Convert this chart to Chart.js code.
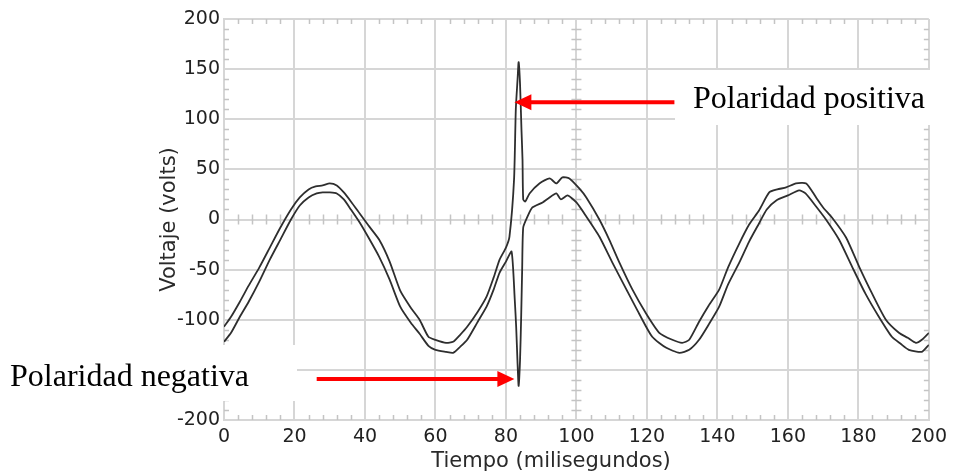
<!DOCTYPE html>
<html>
<head>
<meta charset="utf-8">
<script src="https://cdn.jsdelivr.net/npm/chart.js@4"></script>
<style>
  html, body { margin: 0; padding: 0; background: #fff; }
  canvas { display: block; }
</style>
</head>
<body>
<canvas id="voltChart" width="953" height="476"></canvas>
<script>
// traza superior (con el pico positivo)
const tiempoSup = [0, 2, 4.5, 7, 10, 13, 16, 19, 21.5, 24, 26, 28, 30, 32, 34, 36, 38.5, 41, 44, 47, 50, 53, 55.5, 58, 60, 63, 65, 67, 69, 72, 74.5, 76.5, 78.2, 80, 81, 82.3, 82.8, 83.3, 83.6, 84, 84.4, 84.7, 84.9, 85.5, 86.7, 89.5, 92.4, 94.3, 96, 98, 100.8, 102.8, 106.5, 109.3, 112.2, 115.9, 119.8, 123.5, 127.2, 130, 132, 134.8, 137.5, 140.5, 143, 146.2, 149, 151.8, 154.7, 157, 159.5, 162.3, 165.2, 168, 170, 172.5, 176.5, 180.2, 183.9, 187.8, 191.5, 194, 196.3, 198, 200];
const voltajeSup = [-107, -97, -82, -66, -48, -28, -8, 10, 22, 30, 33, 34, 36, 34, 27, 18, 6, -6, -20, -42, -71, -88, -100, -117, -120, -123, -122, -115, -107, -92, -77, -58, -40, -28, -17, 40, 110, 140, 157, 135, 90, 60, 20, 18, 26, 36, 41, 36, 42, 41, 31, 22, 0, -20, -43, -70, -94, -113, -120, -123, -120, -102, -86, -70, -48, -24, -5, 9, 27, 30, 32, 36, 36, 22, 12, 2, -18, -47, -74, -100, -113, -118, -123, -120, -113];

// traza inferior (con el pico negativo)
const tiempoInf = [0, 2, 4.5, 7, 10, 13, 16, 19, 21.5, 24, 26.3, 28, 30, 32, 34, 36, 38.5, 41, 44, 47, 50, 53, 55.5, 58, 60, 63, 65, 67, 69, 72, 74.5, 76.5, 78.2, 80, 81.6, 82.5, 82.9, 83.3, 83.6, 84, 84.3, 84.6, 84.9, 86, 87.5, 90.4, 92, 94.3, 95.6, 97.5, 100, 102.8, 106.5, 110.2, 114.2, 117.8, 121.5, 125.5, 129.2, 132, 134.8, 137.5, 140.5, 143, 146.2, 149, 151.8, 154, 156.7, 160, 163.2, 165, 168, 170.8, 174.5, 178.2, 182, 185.8, 189.5, 192, 194.3, 198, 200];
const voltajeInf = [-122, -113, -97, -82, -62, -40, -20, 0, 14, 22, 26, 27, 27, 26, 20, 10, -3, -18, -37, -60, -87, -103, -114, -126, -130, -132, -133, -127, -120, -102, -87, -70, -53, -42, -32, -80, -107, -144, -166, -140, -100, -50, -8, 2, 12, 17, 21, 26, 20, 24, 17, 3, -17, -43, -70, -94, -117, -128, -133, -130, -120, -105, -87, -65, -43, -22, -4, 10, 19, 24, 29, 26, 13, 0, -20, -47, -74, -97, -117, -124, -130, -132, -125];

// ejes
const ticksX = [0, 20, 40, 60, 80, 100, 120, 140, 160, 180, 200];
const ticksY = [-200, -150, -100, -50, 0, 50, 100, 150, 200];
const tituloX = 'Tiempo (milisegundos)';
const tituloY = 'Voltaje (volts)';

// anotaciones: punta de la flecha en coordenadas de datos
const notas = [
  { texto: 'Polaridad positiva', punta: [82.4, 117], cola: 127.8, caja: [675, 70, 278, 55], textoX: 693, textoY: 108 },
  { texto: 'Polaridad negativa', punta: [82.4, -159], cola: 26.3, caja: [0, 345, 297, 56], textoX: 10, textoY: 386 }
];

function puntos(xs, ys) {
  return xs.map((x, i) => ({ x: x, y: ys[i] }));
}

// marcas menores tipo osciloscopio
const marcasMenores = {
  id: 'marcasMenores',
  beforeDatasetsDraw(chart) {
    const { ctx, chartArea: a, scales: { x, y } } = chart;
    ctx.save();
    ctx.strokeStyle = '#c4c4c4';
    ctx.lineWidth = 1.5;
    ctx.beginPath();
    for (let t = 0; t <= 200; t += 4) {
      if (t % 20 === 0) continue;
      const px = Math.round(x.getPixelForValue(t)) + 0.5;
      ctx.moveTo(px, a.top); ctx.lineTo(px, a.top + 5);
      ctx.moveTo(px, a.bottom); ctx.lineTo(px, a.bottom - 5);
      const y0 = y.getPixelForValue(0);
      ctx.moveTo(px, y0 - 5); ctx.lineTo(px, y0 + 5);
    }
    for (let v = -200; v <= 200; v += 10) {
      if (v % 50 === 0) continue;
      const py = Math.round(y.getPixelForValue(v)) + 0.5;
      ctx.moveTo(a.left, py); ctx.lineTo(a.left + 5, py);
      ctx.moveTo(a.right, py); ctx.lineTo(a.right - 5, py);
      const x0 = x.getPixelForValue(100);
      ctx.moveTo(x0 - 5, py); ctx.lineTo(x0 + 5, py);
    }
    ctx.stroke();
    ctx.restore();
  }
};

// titulos de ejes, cajas blancas y flechas rojas
const anotaciones = {
  id: 'anotaciones',
  afterDraw(chart) {
    const { ctx, chartArea: a, scales: { x, y } } = chart;
    ctx.save();
    ctx.fillStyle = '#2a2a2a';
    ctx.font = '21px "DejaVu Sans"';
    ctx.textAlign = 'center';
    ctx.textBaseline = 'middle';
    ctx.fillText(tituloX, 551, 462);
    ctx.translate(170, (a.top + a.bottom) / 2);
    ctx.rotate(-Math.PI / 2);
    ctx.fillText(tituloY, 0, 0);
    ctx.restore();

    notas.forEach(n => {
      ctx.save();
      ctx.fillStyle = '#fff';
      ctx.fillRect(n.caja[0], n.caja[1], n.caja[2], n.caja[3]);
      ctx.fillStyle = '#000';
      ctx.font = '32px "Liberation Serif"';
      ctx.textBaseline = 'alphabetic';
      ctx.fillText(n.texto, n.textoX, n.textoY);

      const tx = x.getPixelForValue(n.punta[0]);
      const ty = y.getPixelForValue(n.punta[1]);
      const cx = x.getPixelForValue(n.cola);
      const dir = cx > tx ? 1 : -1;
      ctx.strokeStyle = '#ff0000';
      ctx.fillStyle = '#ff0000';
      ctx.lineWidth = 4;
      ctx.beginPath();
      ctx.moveTo(cx, ty);
      ctx.lineTo(tx + dir * 12, ty);
      ctx.stroke();
      ctx.beginPath();
      ctx.moveTo(tx, ty);
      ctx.lineTo(tx + dir * 17, ty - 8);
      ctx.lineTo(tx + dir * 17, ty + 8);
      ctx.closePath();
      ctx.fill();
      ctx.restore();
    });
  }
};

const ctx = document.getElementById('voltChart').getContext('2d');
new Chart(ctx, {
  type: 'line',
  data: {
    datasets: [
      { data: puntos(tiempoSup, voltajeSup), borderColor: '#2e2e2e', borderWidth: 1.8, pointRadius: 0, tension: 0.2, fill: false },
      { data: puntos(tiempoInf, voltajeInf), borderColor: '#2e2e2e', borderWidth: 1.8, pointRadius: 0, tension: 0.2, fill: false }
    ]
  },
  options: {
    responsive: false,
    animation: false,
    devicePixelRatio: 1,
    layout: { padding: { left: 0, right: 23, top: 19, bottom: 0 } },
    plugins: { legend: { display: false }, tooltip: { enabled: false } },
    scales: {
      x: {
        type: 'linear',
        min: 0, max: 200,
        afterFit: s => { s.height = 56; },
        afterBuildTicks: s => { s.ticks = ticksX.map(v => ({ value: v })); },
        grid: { color: '#d6d6d6', lineWidth: 2, drawTicks: false },
        border: { color: '#d6d6d6', width: 2 },
        ticks: { padding: 6, color: '#222', maxRotation: 0, autoSkip: false, font: { family: 'DejaVu Sans', size: 19 } }
      },
      y: {
        min: -200, max: 200,
        afterFit: s => { s.width = 224; },
        afterBuildTicks: s => { s.ticks = ticksY.map(v => ({ value: v })); },
        grid: { color: '#d6d6d6', lineWidth: 2, drawTicks: false },
        border: { color: '#d6d6d6', width: 2 },
        ticks: { padding: 4, color: '#222', font: { family: 'DejaVu Sans', size: 19 } }
      }
    }
  },
  plugins: [marcasMenores, anotaciones]
});
</script>
</body>
</html>
